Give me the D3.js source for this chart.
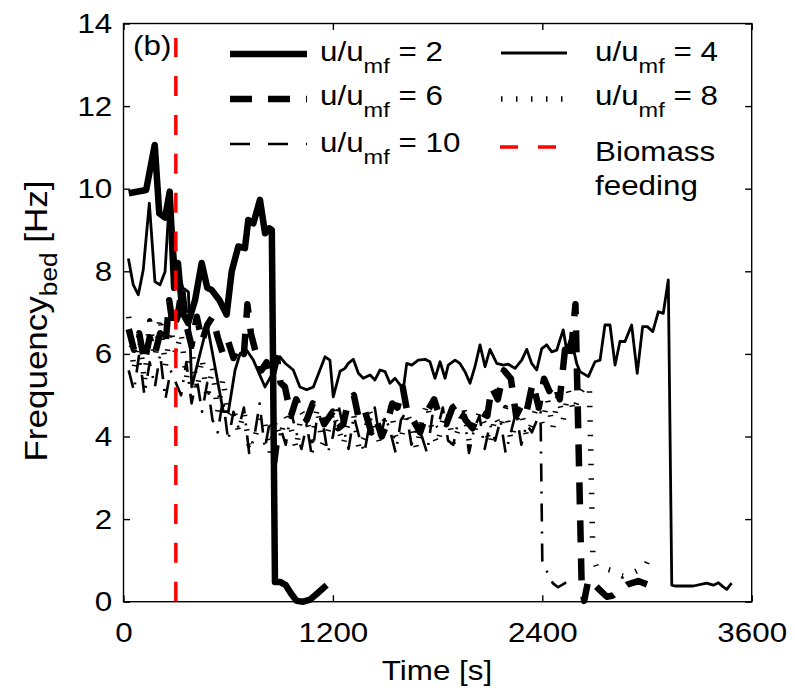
<!DOCTYPE html>
<html>
<head>
<meta charset="utf-8">
<script src="https://cdn.jsdelivr.net/npm/d3@7"></script>
<style>
  body { margin: 0; background: #fff; }
  svg text { font-family: "Liberation Sans", Arial, Helvetica, sans-serif; fill: #000; }
</style>
</head>
<body>
<div id="chart"></div>
<script>
// tick values
const xTicks = [0, 1200, 2400, 3600];
const yTicks = [0, 2, 4, 6, 8, 10, 12, 14];

// u/umf = 2 (thick solid)
const t2 = [30, 130, 179, 205, 238, 265, 290, 312, 338, 370,
            410, 448, 480, 505, 550, 591, 620, 658, 696, 715,
            744, 782, 811, 835, 850, 868, 897, 930, 960, 992,
            1030, 1069, 1110, 1164];
const v2 = [9.89, 9.97, 11.06, 9.4, 9.3, 9.93, 7.6, 8.2, 7.0, 6.75,
            7.3, 8.2, 7.6, 7.55, 7.3, 6.95, 8.0, 8.6, 8.56, 9.24,
            9.16, 9.73, 8.92, 9.04, 9.0, 0.48, 0.48, 0.4, 0.2, 0.02,
            0.0, 0.05, 0.2, 0.4];

// u/umf = 4 (thin solid)
const t4 = [28, 56, 85, 113, 148, 180, 209, 238, 266, 300,
            340, 372, 391, 480, 572, 601, 639, 668, 706, 744,
            811, 850, 897, 925, 973, 1011, 1050, 1088, 1155, 1183,
            1202, 1241, 1269, 1288, 1317, 1346, 1374, 1413, 1441, 1470,
            1499, 1527, 1556, 1585, 1603, 1623, 1652, 1689, 1728, 1756,
            1785, 1814, 1843, 1861, 1900, 1928, 1957, 1986, 2014, 2043,
            2072, 2100, 2139, 2177, 2205, 2244, 2282, 2311, 2339, 2368,
            2397, 2425, 2454, 2483, 2501, 2520, 2540, 2564, 2597, 2616,
            2664, 2702, 2731, 2759, 2788, 2817, 2845, 2874, 2912, 2944,
            2975, 3002, 3033, 3065, 3093, 3122, 3142, 3160, 3265, 3342,
            3380, 3409, 3437, 3457, 3485];
const v4 = [8.31, 7.67, 7.43, 8.03, 9.65, 7.75, 7.67, 7.99, 9.95, 8.2,
            7.6, 7.5, 5.2, 6.7, 4.6, 4.6, 5.6, 6.01, 6.09, 5.85,
            5.2, 5.5, 5.93, 5.78, 5.61, 5.2, 5.13, 5.2, 5.93, 5.85,
            4.96, 5.58, 5.65, 5.77, 5.87, 5.53, 5.41, 5.49, 5.37, 5.61,
            5.57, 5.29, 5.41, 5.25, 5.13, 5.77, 5.73, 5.85, 5.87, 5.81,
            5.41, 5.81, 5.41, 5.73, 5.85, 5.77, 5.57, 5.29, 5.69, 6.22,
            5.69, 6.11, 5.77, 5.73, 5.75, 5.65, 5.85, 6.11, 5.77, 5.61,
            6.13, 6.22, 6.05, 6.09, 6.34, 6.58, 6.09, 6.4, 5.77, 5.57,
            5.45, 5.81, 5.85, 6.7, 6.7, 5.73, 6.3, 6.3, 6.7, 5.53,
            6.66, 6.66, 6.54, 7.02, 6.98, 7.79, 0.4, 0.38, 0.38, 0.45,
            0.4, 0.46, 0.36, 0.3, 0.45];

// u/umf = 6 (thick dashed)
const t6 = [30, 60, 90, 120, 150, 180, 210, 240, 262, 285,
            310, 335, 360, 390, 420, 450, 480, 510, 540, 570,
            600, 630, 660, 690, 710, 730, 760, 790, 820, 850,
            880, 900, 925, 960, 990, 1020, 1050, 1085, 1115, 1150,
            1200, 1230, 1260, 1290, 1320, 1350, 1385, 1420, 1450, 1480,
            1510, 1540, 1570, 1600, 1630, 1660, 1700, 1740, 1780, 1810,
            1850, 1885, 1920, 1960, 2000, 2040, 2085, 2110, 2145, 2180,
            2220, 2250, 2285, 2310, 2345, 2380, 2410, 2440, 2470, 2500,
            2530, 2560, 2590, 2625, 2640, 2665, 2730, 2770, 2805, 2890,
            2950, 3000];
const v6 = [6.6, 6.1, 6.5, 5.8, 6.4, 6.0, 6.5, 6.2, 7.3, 6.6,
            6.9, 7.6, 6.7, 6.2, 6.9, 6.3, 6.7, 6.9, 6.4, 6.0,
            6.3, 5.9, 6.2, 6.0, 7.2, 6.5, 6.0, 5.6, 5.8, 5.4,
            5.9, 5.3, 5.2, 4.5, 4.9, 4.6, 4.4, 4.8, 4.7, 4.3,
            4.6, 4.2, 4.3, 4.9, 5.0, 4.4, 4.6, 4.1, 4.4, 4.0,
            4.3, 4.8, 4.7, 5.2, 4.5, 4.4, 4.1, 4.6, 4.9, 4.5,
            4.3, 4.7, 4.8, 4.4, 4.2, 4.6, 4.5, 5.2, 4.9, 5.6,
            5.4, 4.5, 4.8, 4.6, 5.3, 4.7, 5.4, 5.1, 5.3, 4.9,
            6.1, 5.85, 7.2, 0.5, 0.02, 0.55, 0.28, 0.12, 0.15, 0.42,
            0.5, 0.42];

// u/umf = 8 (dotted)
const t8 = [30, 60, 90, 120, 150, 180, 210, 240, 270, 300,
            330, 360, 390, 420, 450, 480, 510, 540, 570, 600,
            630, 660, 690, 720, 750, 780, 810, 840, 870, 900,
            930, 960, 990, 1020, 1050, 1080, 1110, 1140, 1170, 1200,
            1230, 1260, 1290, 1320, 1350, 1380, 1410, 1440, 1470, 1500,
            1530, 1560, 1590, 1620, 1650, 1680, 1710, 1740, 1770, 1800,
            1830, 1860, 1890, 1920, 1950, 1980, 2010, 2040, 2070, 2100,
            2130, 2160, 2190, 2220, 2250, 2280, 2310, 2340, 2370, 2400,
            2430, 2460, 2490, 2520, 2550, 2580, 2610, 2640, 2670, 2690,
            2710, 2760, 2800, 2860, 2920, 2990, 3030];
const v8 = [6.9, 5.6, 6.5, 5.3, 6.8, 5.9, 6.9, 5.7, 6.6, 6.0,
            6.5, 5.4, 6.2, 5.1, 5.9, 4.9, 5.7, 4.6, 5.4, 4.5,
            4.7, 4.1, 4.6, 3.8, 3.9, 4.5, 4.3, 3.6, 4.4, 4.0,
            4.5, 4.2, 3.7, 4.6, 4.4, 3.9, 4.7, 3.8, 4.1, 4.6,
            4.2, 3.8, 4.4, 4.5, 3.7, 4.0, 4.6, 4.3, 3.8, 4.5,
            4.7, 4.0, 3.9, 4.6, 4.3, 3.7, 4.4, 4.8, 4.1, 3.8,
            4.4, 4.6, 3.8, 4.2, 4.7, 3.9, 4.1, 4.6, 4.3, 3.8,
            4.5, 4.2, 4.7, 3.9, 4.4, 4.6, 4.0, 4.3, 4.8, 4.3,
            4.9, 4.2, 5.0, 4.4, 5.1, 4.6, 5.0, 5.2, 5.2, 1.1,
            0.85, 0.8, 0.75, 0.62, 0.7, 0.85, 1.25];

// u/umf = 10 (dash-dot)
const t10 = [30, 60, 90, 120, 150, 180, 210, 240, 270, 300,
             330, 360, 390, 420, 450, 480, 510, 540, 570, 600,
             630, 660, 690, 720, 750, 780, 810, 840, 870, 900,
             930, 960, 990, 1020, 1050, 1080, 1110, 1140, 1170, 1200,
             1230, 1260, 1290, 1320, 1350, 1380, 1410, 1440, 1470, 1500,
             1530, 1560, 1590, 1620, 1650, 1680, 1710, 1740, 1770, 1800,
             1830, 1860, 1890, 1920, 1950, 1980, 2010, 2040, 2070, 2100,
             2130, 2160, 2190, 2220, 2250, 2280, 2310, 2340, 2370, 2390,
             2400, 2430, 2460, 2490, 2530, 2570];
const v10 = [5.6, 5.1, 6.0, 5.0, 5.8, 5.2, 6.0, 4.9, 5.6, 5.3,
             5.0, 5.8, 4.8, 5.4, 4.6, 5.3, 4.4, 4.1, 4.9, 3.9,
             4.6, 4.2, 4.7, 3.6, 4.0, 4.8, 3.7, 4.4, 3.2, 4.2,
             3.8, 4.6, 4.1, 3.7, 4.3, 3.5, 4.5, 4.4, 3.6, 4.0,
             4.8, 4.2, 3.7, 4.5, 4.0, 3.6, 4.3, 4.7, 3.9, 4.5,
             4.1, 3.6, 4.4, 4.6, 3.8, 4.2, 4.0, 3.6, 4.5, 4.2,
             4.7, 3.9, 3.8, 4.4, 4.6, 3.6, 4.2, 4.5, 3.7, 4.3,
             3.9, 4.4, 3.6, 4.1, 4.6, 3.8, 4.3, 4.1, 4.4, 4.6,
             1.0, 0.7, 0.45, 0.35, 0.45, 0.5];

// biomass feeding instant
const feedTime = [300, 300];
const feedLevel = [0, 13.65];

const W = 795, H = 693;
const SX = 1.12; // the figure is a little stretched sideways
const FS = 28;

const svg = d3.select("#chart").append("svg")
    .attr("width", W)
    .attr("height", H);

const x = d3.scaleLinear().domain([0, 3600]).range([123.5, 751.7]);
const y = d3.scaleLinear().domain([0, 14]).range([601.7, 23.5]);

const styles = [
    { t: t2, v: v2, w: 6.5, dash: null, leg: null },
    { t: t4, v: v4, w: 2.8, dash: null, leg: null },
    { t: t6, v: v6, w: 6.5, dash: "22,16", leg: "22,16" },
    { t: t8, v: v8, w: 5.5, dash: "1.5,13", leg: "1.5,13.5" },
    { t: t10, v: v10, w: 2.6, dash: "18,10,2,10", leg: "20,18" }
];

const line = d3.line().x(d => x(d[0])).y(d => y(d[1]));

// series (draw thin ones first)
[4, 3, 1, 2, 0].forEach(i => {
    const s = styles[i];
    svg.append("path")
        .datum(d3.zip(s.t, s.v))
        .attr("fill", "none")
        .attr("stroke", "#000")
        .attr("stroke-width", s.w)
        .attr("stroke-linejoin", "round")
        .attr("stroke-dasharray", s.dash)
        .attr("d", line);
});

// red dashed biomass feeding line (pattern runs from the bottom)
svg.append("path")
    .datum(d3.zip(feedTime, feedLevel))
    .attr("fill", "none")
    .attr("stroke", "#ff0000")
    .attr("stroke-width", 3.5)
    .attr("stroke-dasharray", "20,18.9")
    .attr("d", line);

// axes box + inside ticks
const ax = svg.append("g").attr("class", "axes");
ax.append("g")
    .attr("transform", `translate(0,${y(0)})`)
    .call(d3.axisBottom(x).tickValues(xTicks).tickFormat(d3.format("d"))
        .tickSizeInner(-6.5).tickSizeOuter(0).tickPadding(20));
ax.append("g")
    .attr("transform", `translate(0,${y(14)})`)
    .call(d3.axisTop(x).tickValues(xTicks).tickSizeInner(-6.5).tickSizeOuter(0).tickFormat(""));
ax.append("g")
    .attr("transform", `translate(${x(0)},0)`)
    .call(d3.axisLeft(y).tickValues(yTicks).tickFormat(d3.format("d"))
        .tickSizeInner(-6.5).tickSizeOuter(0).tickPadding(10));
ax.append("g")
    .attr("transform", `translate(${x(3600)},0)`)
    .call(d3.axisRight(y).tickValues(yTicks).tickSizeInner(-6.5).tickSizeOuter(0).tickFormat(""));

ax.selectAll(".domain").remove();
ax.selectAll(".tick line").attr("stroke", "#000").attr("stroke-width", 1.4);
ax.selectAll(".tick text")
    .attr("font-size", FS)
    .attr("transform", `scale(${SX},1)`);
ax.selectAll("g").attr("font-family", null);

ax.append("rect")
    .attr("x", x(0)).attr("y", y(14))
    .attr("width", x(3600) - x(0)).attr("height", y(0) - y(14))
    .attr("fill", "none").attr("stroke", "#000").attr("stroke-width", 1.4);

// helper for stretched text
function label(px, py, anchor, extra) {
    const g = svg.append("g")
        .attr("transform", `translate(${px},${py}) ` + (extra || `scale(${SX},1)`));
    return g.append("text").attr("font-size", FS).attr("text-anchor", anchor || "start");
}

// axis titles
label(437, 680, "middle").text("Time [s]");
const yl = label(47, 321, "middle", `scale(${SX},1.25) rotate(-90)`);
yl.append("tspan").text("Frequency");
yl.append("tspan").attr("font-size", 21).attr("dy", 9).text("bed");
yl.append("tspan").attr("dy", -9).text(" [Hz]");

// panel tag
label(133, 55, "start").text("(b)");

// legend
const legendLabels = ["2", "4", "6", "8", "10"];
const legPos = [
    { lx: 230, ly: 54, tx: 320, ty: 61 },
    { lx: 501, ly: 53, tx: 595, ty: 61 },
    { lx: 230, ly: 99, tx: 320, ty: 105 },
    { lx: 501, ly: 99, tx: 595, ty: 105 },
    { lx: 230, ly: 144, tx: 320, ty: 152 }
];
legendLabels.forEach((lab, i) => {
    const s = styles[i], p = legPos[i];
    const len = i % 2 === 0 ? 77 : 66;
    svg.append("line")
        .attr("x1", p.lx).attr("x2", p.lx + len)
        .attr("y1", p.ly).attr("y2", p.ly)
        .attr("stroke", "#000")
        .attr("stroke-width", s.w)
        .attr("stroke-dasharray", s.leg);
    const t = label(p.tx, p.ty, "start");
    t.append("tspan").text("u/u");
    t.append("tspan").attr("font-size", 21).attr("dy", 12).text("mf");
    t.append("tspan").attr("dy", -12).text(" = " + lab);
});
svg.append("line")
    .attr("x1", 500).attr("x2", 566)
    .attr("y1", 147).attr("y2", 147)
    .attr("stroke", "#ff0000")
    .attr("stroke-width", 3.5)
    .attr("stroke-dasharray", "18,20");
label(595, 161, "start").text("Biomass");
label(595, 195, "start").text("feeding");
</script>
</body>
</html>
